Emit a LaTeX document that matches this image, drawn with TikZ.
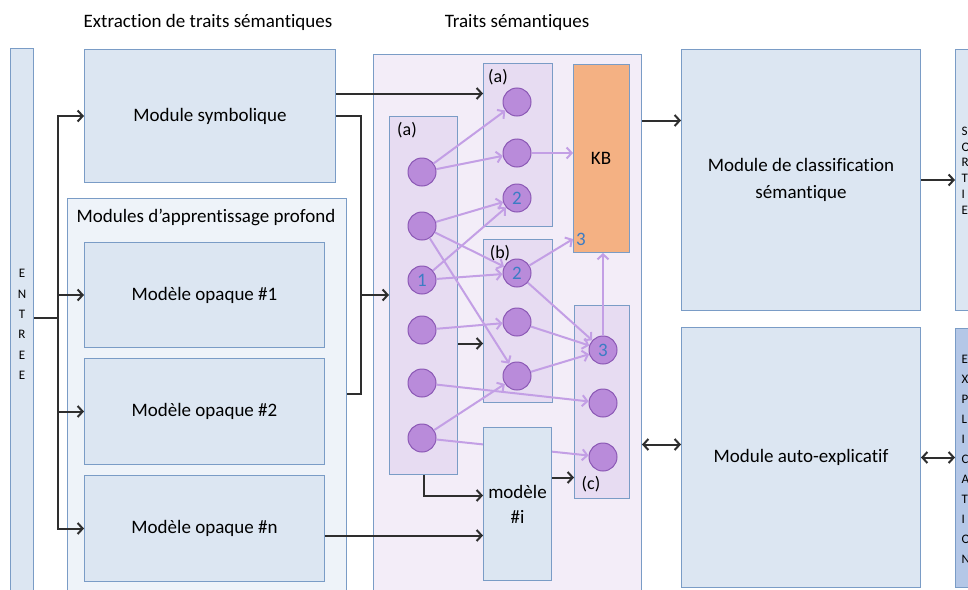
\documentclass[tikz,border=0pt]{standalone}
\usepackage{fontspec}
\setmainfont[Ligatures=NoCommon]{Carlito}
\usetikzlibrary{arrows.meta,calc}

\definecolor{boxfill}{HTML}{DCE6F2}
\definecolor{boxedge}{HTML}{7A9CC6}
\definecolor{deepfill}{HTML}{EEF3F9}
\definecolor{panelfill}{HTML}{F3EDF8}
\definecolor{colfill}{HTML}{E7DCF2}
\definecolor{kbfill}{HTML}{F4B183}
\definecolor{outfill}{HTML}{B4C7E7}
\definecolor{neufill}{HTML}{B98BDA}
\definecolor{neuedge}{HTML}{8B58B5}
\definecolor{linkc}{HTML}{C39FE5}
\definecolor{numc}{HTML}{3C7CC4}
\definecolor{connc}{HTML}{2E2E2E}

\begin{document}
\begin{tikzpicture}[x=1pt,y=-1pt,
  big/.style={font=\fontsize{19}{27}\selectfont},
  small/.style={font=\fontsize{18}{20}\selectfont},
  blk/.style={draw=boxedge, fill=boxfill, line width=1pt, inner sep=0pt,
              anchor=north west, big, align=center},
  colbox/.style={draw=boxedge, fill=colfill, line width=1pt, inner sep=0pt, anchor=north west},
  neuron/.style={circle, draw=neuedge, fill=neufill, line width=1pt, minimum size=28pt,
                 inner sep=0pt, text=numc, font=\fontsize{19}{20}\selectfont},
  link/.style={draw=linkc, line width=2pt, -{Straight Barb[length=5pt,width=11pt]}},
  conn/.style={draw=connc, line width=2pt},
  arr/.style={conn, -{Straight Barb[length=5pt,width=11pt]}},
  darr/.style={conn, {Straight Barb[length=5pt,width=11pt]}-{Straight Barb[length=5pt,width=11pt]}},
  letters/.style={inner sep=0pt, align=left, anchor=west}
]
\clip (0,0) rectangle (968,589);
\fill[white] (0,0) rectangle (968,589);

% headings
\node[big] (hExt) at (208,22) {Extraction de traits sémantiques};
\node[big] (hTr) at (517,22) {Traits sémantiques};

% input strip
\node[blk, minimum width=23pt, minimum height=552pt, font=\fontsize{13}{20.4}\selectfont]
  (entree) at (10,48) {E\\N\\T\\R\\E\\E};

% extraction side
\node[blk, minimum width=251pt, minimum height=133pt] (sym) at (84,49) {Module symbolique};
\node[blk, fill=deepfill, minimum width=279pt, minimum height=402pt] (deepc) at (67,198) {};
\node[big] (deept) at (206,217) {Modules d’apprentissage profond};
\node[blk, minimum width=240pt, minimum height=105pt] (op1) at (84,242) {Modèle opaque \#1};
\node[blk, minimum width=240pt, minimum height=106pt] (op2) at (84,358) {Modèle opaque \#2};
\node[blk, minimum width=240pt, minimum height=106pt] (opn) at (84,475) {Modèle opaque \#n};

% semantic features panel
\node[blk, fill=panelfill, minimum width=268pt, minimum height=546pt] (panel) at (373,54) {};
\node[colbox, minimum width=68pt, minimum height=358pt] (colL) at (389,116) {};
\node[colbox, minimum width=69pt, minimum height=163pt] (colA) at (483,63) {};
\node[colbox, minimum width=69pt, minimum height=163pt] (colB) at (483,239) {};
\node[colbox, minimum width=55pt, minimum height=193pt] (colC) at (574,305) {};
\node[colbox, fill=kbfill, minimum width=56pt, minimum height=188pt] (kb) at (573,64) {};
\node[big] (kbt) at (601,158) {KB};
\node[font=\fontsize{19}{20}\selectfont, text=numc] (kbn) at (581,239) {3};

\node[small] (la) at (407,130) {(a)};
\node[small] (laa) at (498,77) {(a)};
\node[small] (lb) at (500,253) {(b)};
\node[small] (lc) at (591,484) {(c)};

% neurons
\node[neuron] (l1) at (422,172) {};
\node[neuron] (l2) at (422,226) {};
\node[neuron] (l3) at (422,280) {1};
\node[neuron] (l4) at (422,330) {};
\node[neuron] (l5) at (422,383) {};
\node[neuron] (l6) at (422,438) {};
\node[neuron] (a1) at (517,102) {};
\node[neuron] (a2) at (517,153) {};
\node[neuron] (a3) at (517,198) {2};
\node[neuron] (b1) at (517,273) {2};
\node[neuron] (b2) at (517,322) {};
\node[neuron] (b3) at (517,376) {};
\node[neuron] (c1) at (603,350) {3};
\node[neuron] (c2) at (603,403) {};
\node[neuron] (c3) at (603,457) {};

% links between features
\draw[link] (l1) -- (a1);
\draw[link] (l1) -- (a2);
\draw[link] (l2) -- (a3);
\draw[link] (l2) -- (b1);
\draw[link] (l2) -- (b3);
\draw[link] (l3) -- (a3);
\draw[link] (l3) -- (b1);
\draw[link] (l4) -- (b2);
\draw[link] (l5) -- (c2);
\draw[link] (l6) -- (b3);
\draw[link] (l6) -- (c3);
\draw[link] (a2) -- (a2 -| kb.west);
\draw[link] (b1) -- ([yshift=14pt]kb.south west);
\draw[link] (b1) -- (c1);
\draw[link] (b2) -- (c1);
\draw[link] (b3) -- (c1);
\draw[link] (c1) -- (c1 |- kb.south);

% local model
\node[blk, minimum width=68pt, minimum height=153pt, font=\fontsize{19}{25}\selectfont] (modi) at (483,427) {modèle\\\#i};

% classification / explanation side
\node[blk, minimum width=239pt, minimum height=261pt] (cls) at (681,49) {Module de classification\\sémantique};
\node[blk, minimum width=239pt, minimum height=260pt] (aux) at (681,327) {Module auto-explicatif};
\node[blk, minimum width=40pt, minimum height=261pt] (outS) at (955,49) {};
\node[blk, fill=outfill, minimum width=40pt, minimum height=259pt] (outE) at (955,328) {};
\node[letters, font=\fontsize{13}{15.8}\selectfont] (sortie) at (961.5,170.5) {S\\O\\R\\T\\I\\E};
\node[letters, font=\fontsize{13}{20}\selectfont] (expl) at (961.5,459) {E\\X\\P\\L\\I\\C\\A\\T\\I\\O\\N};

% connectors
\coordinate (fork) at (58,318);
\coordinate (mrg) at (361,295);
\coordinate (mrgb) at (361,394);
\draw[conn] (fork -| entree.east) -- (fork);
\draw[arr] (fork) |- (sym.west);
\draw[arr] (fork) |- (op1.west);
\draw[arr] (fork) |- (op2.west);
\draw[arr] (fork) |- (opn.west);

\draw[arr] ([yshift=22.5pt]sym.east) -- ([yshift=22.5pt]sym.east -| colA.west);
\draw[conn] (sym.east) -| (mrgb) -- (mrgb -| deepc.east);
\draw[arr] (mrg) -- (mrg -| colL.west);
\draw[arr] ([yshift=-7pt]opn.east) -- ([yshift=-7pt]opn.east -| modi.west);

\draw[arr] (colL.south) |- ([yshift=8.5pt]modi.west);
\draw[arr] ([yshift=-48pt]colL.east) -- ([yshift=-48pt]colL.east -| colB.west);
\draw[arr] ([yshift=26.5pt]modi.east) -- ([yshift=26.5pt]modi.east -| colC.west);

\draw[arr] ([yshift=59.5pt]cls.west -| panel.east) -- ([yshift=59.5pt]cls.west);
\draw[arr] (cls.east) -- (cls.east -| outS.west);
\draw[darr] ([yshift=13pt]aux.west -| panel.east) -- ([yshift=13pt]aux.west);
\draw[darr] (aux.east) -- (aux.east -| outE.west);
\end{tikzpicture}
\end{document}
